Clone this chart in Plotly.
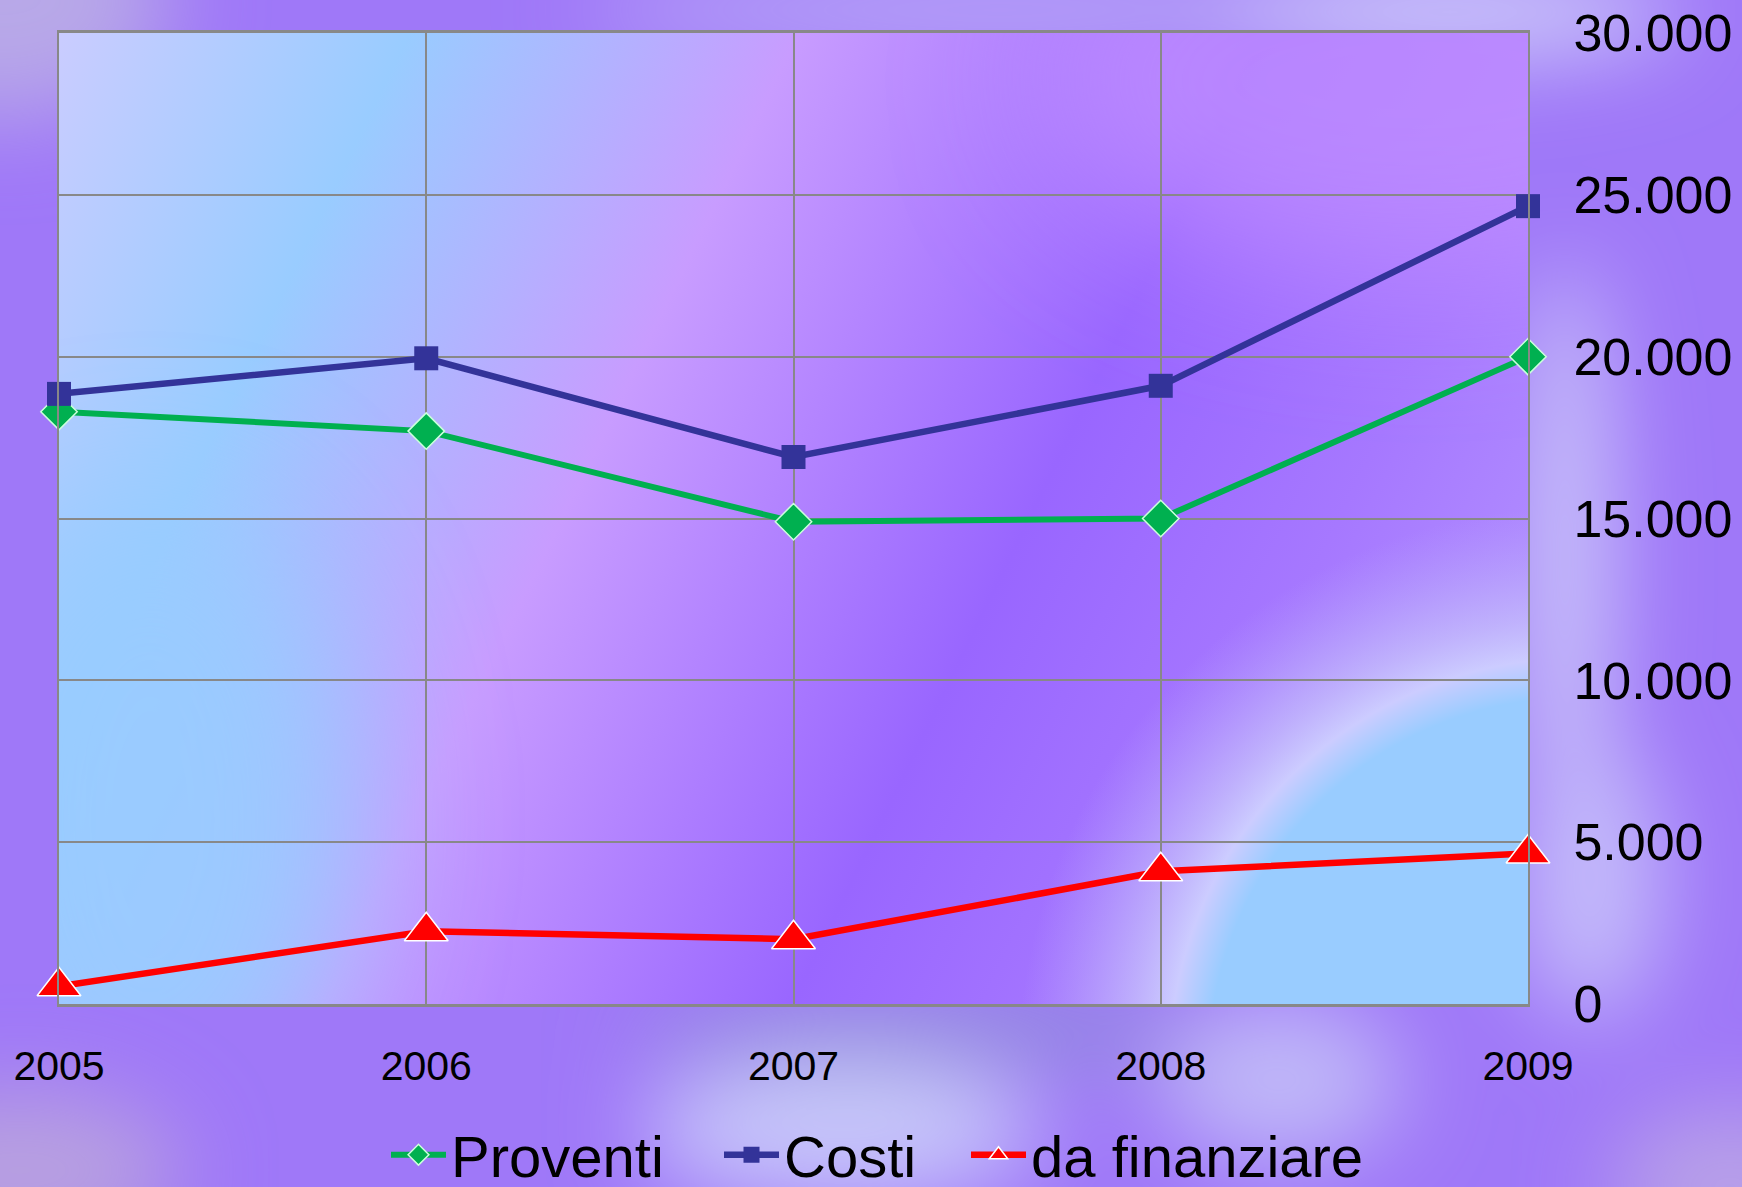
import base64
import plotly.graph_objects as go

# ---- data ----
years = [2005, 2006, 2007, 2008, 2009]
year_labels = ["2005", "2006", "2007", "2008", "2009"]
proventi = [18300, 17700, 14900, 15000, 20000]
costi = [18850, 19950, 16900, 19100, 24650]
da_finanziare = [550, 2250, 2000, 4100, 4650]
y_ticks = [0, 5000, 10000, 15000, 20000, 25000, 30000]

W, H = 1742, 1187
L, T, R, B = 59, 33, 1528, 1004  # plot area in pixels
PW, PH = R - L, B - T

# ---- decorative background (SVG gradients) ----
svg = f"""<svg xmlns='http://www.w3.org/2000/svg' width='{W}' height='{H}' viewBox='0 0 {W} {H}'>
<defs>
<filter id='b' x='-50%' y='-50%' width='200%' height='200%'><feGaussianBlur stdDeviation='45'/></filter>
<filter id='b2' x='-50%' y='-50%' width='200%' height='200%'><feGaussianBlur stdDeviation='70'/></filter>
<clipPath id='pc'><rect x='{L}' y='{T}' width='{PW}' height='{PH}'/></clipPath>
<linearGradient id='pg' gradientUnits='userSpaceOnUse' x1='{L}' y1='{T}' x2='1631' y2='801'>
<stop offset='0' stop-color='#CACCFF'/>
<stop offset='0.18' stop-color='#99CCFF'/>
<stop offset='0.38' stop-color='#C89CFF'/>
<stop offset='0.62' stop-color='#9966FF'/>
<stop offset='0.78' stop-color='#A678FF'/>
<stop offset='1' stop-color='#B89CFF'/>
</linearGradient>
<radialGradient id='cg' gradientUnits='userSpaceOnUse' cx='1578' cy='1067' r='560'>
<stop offset='0' stop-color='#99CCFF'/>
<stop offset='0.66' stop-color='#99CCFF'/>
<stop offset='0.73' stop-color='#CCCCFF'/>
<stop offset='0.80' stop-color='#C4BCFC' stop-opacity='0.8'/>
<stop offset='1' stop-color='#B8A8FA' stop-opacity='0'/>
</radialGradient>
</defs>
<rect width='{W}' height='{H}' fill='#9F78F8'/>
<g filter='url(#b)'>
<ellipse cx='0' cy='0' rx='170' ry='120' fill='#B8A8E8'/>
<ellipse cx='1000' cy='10' rx='420' ry='40' fill='#B9A8F8'/>
<ellipse cx='1450' cy='12' rx='230' ry='45' fill='#D0D0FA'/>
<ellipse cx='1565' cy='560' rx='45' ry='300' fill='#CCC8FA'/>
<ellipse cx='1590' cy='880' rx='70' ry='140' fill='#C4BCFA'/>
<ellipse cx='930' cy='1030' rx='300' ry='30' fill='#8E8ED8'/>
<ellipse cx='840' cy='1130' rx='200' ry='70' fill='#C8C8FA'/>
<ellipse cx='1280' cy='1080' rx='120' ry='80' fill='#C0B8F8'/>
<ellipse cx='20' cy='1170' rx='160' ry='80' fill='#B8A0E0'/>
<ellipse cx='1730' cy='1187' rx='120' ry='80' fill='#B8A0E8'/>
</g>
<g clip-path='url(#pc)'>
<rect x='{L}' y='{T}' width='{PW}' height='{PH}' fill='url(#pg)'/>
<g filter='url(#b2)'>
<ellipse cx='150' cy='820' rx='210' ry='330' fill='#99CCFF' opacity='0.9'/>
<ellipse cx='1420' cy='80' rx='380' ry='200' fill='#C290FF' opacity='0.75'/>
</g>
<circle cx='1578' cy='1067' r='560' fill='url(#cg)'/>
</g>
</svg>"""
src = "data:image/svg+xml;base64," + base64.b64encode(svg.encode()).decode()

font = "Arial, Liberation Sans, sans-serif"

fig = go.Figure()
fig.add_trace(go.Scatter(
    x=years, y=proventi, name="Proventi", mode="lines+markers",
    line=dict(color="#00B050", width=6),
    marker=dict(symbol="diamond", size=28, color="#00B050",
                line=dict(color="#CCFFDD", width=1.5)),
    cliponaxis=False, legend="legend",
))
fig.add_trace(go.Scatter(
    x=years, y=costi, name="Costi", mode="lines+markers",
    line=dict(color="#333399", width=6.5),
    marker=dict(symbol="square", size=24, color="#333399",
                line=dict(color="#333399", width=0)),
    cliponaxis=False, legend="legend2",
))
fig.add_trace(go.Scatter(
    x=years, y=da_finanziare, name="da finanziare", mode="lines+markers",
    line=dict(color="#FF0000", width=6.5),
    marker=dict(symbol="triangle-up", size=38, color="#FF0000",
                line=dict(color="#FFFFFF", width=1.5)),
    cliponaxis=False, legend="legend3",
))

def leg(xpix):
    return dict(
        orientation="h", xref="container", yref="container",
        x=xpix / W, xanchor="left", y=(H - 1155) / H, yanchor="middle",
        font=dict(size=58, family=font, color="black"),
        bgcolor="rgba(0,0,0,0)", itemwidth=55,
    )

fig.update_layout(
    width=W, height=H,
    margin=dict(l=L, r=W - R, t=T, b=H - B, autoexpand=False),
    paper_bgcolor="rgba(0,0,0,0)",
    plot_bgcolor="rgba(0,0,0,0)",
    separators=",.",
    font=dict(family=font, color="black"),
    showlegend=True,
    legend=leg(386),
    legend2=leg(719),
    legend3=leg(966),
    images=[dict(
        source=src, xref="paper", yref="paper",
        x=-L / PW, y=1 + T / PH, sizex=W / PW, sizey=H / PH,
        xanchor="left", yanchor="top", sizing="stretch", layer="below",
    )],
    xaxis=dict(
        range=[2005, 2009], tickmode="array", tickvals=years, ticktext=year_labels,
        showgrid=True, gridcolor="#888888", gridwidth=2,
        showline=True, linecolor="#888888", linewidth=3, mirror=True,
        zeroline=False, ticks="", tickfont=dict(size=41, family=font, color="black"),
        ticklabelstandoff=24,
    ),
    yaxis=dict(
        range=[0, 30000], side="right", tickmode="array", tickvals=y_ticks,
        tickformat=",.0f",
        showgrid=True, gridcolor="#888888", gridwidth=2,
        showline=True, linecolor="#888888", linewidth=2, mirror=True,
        zeroline=False, ticks="", tickfont=dict(size=52, family=font, color="black"),
        ticklabelstandoff=33,
    ),
)

fig.write_html(
    "out.html",
    config={"displayModeBar": False},
    post_script="document.body.style.margin='0px';document.body.style.padding='0px';document.body.style.overflow='hidden';",
)
